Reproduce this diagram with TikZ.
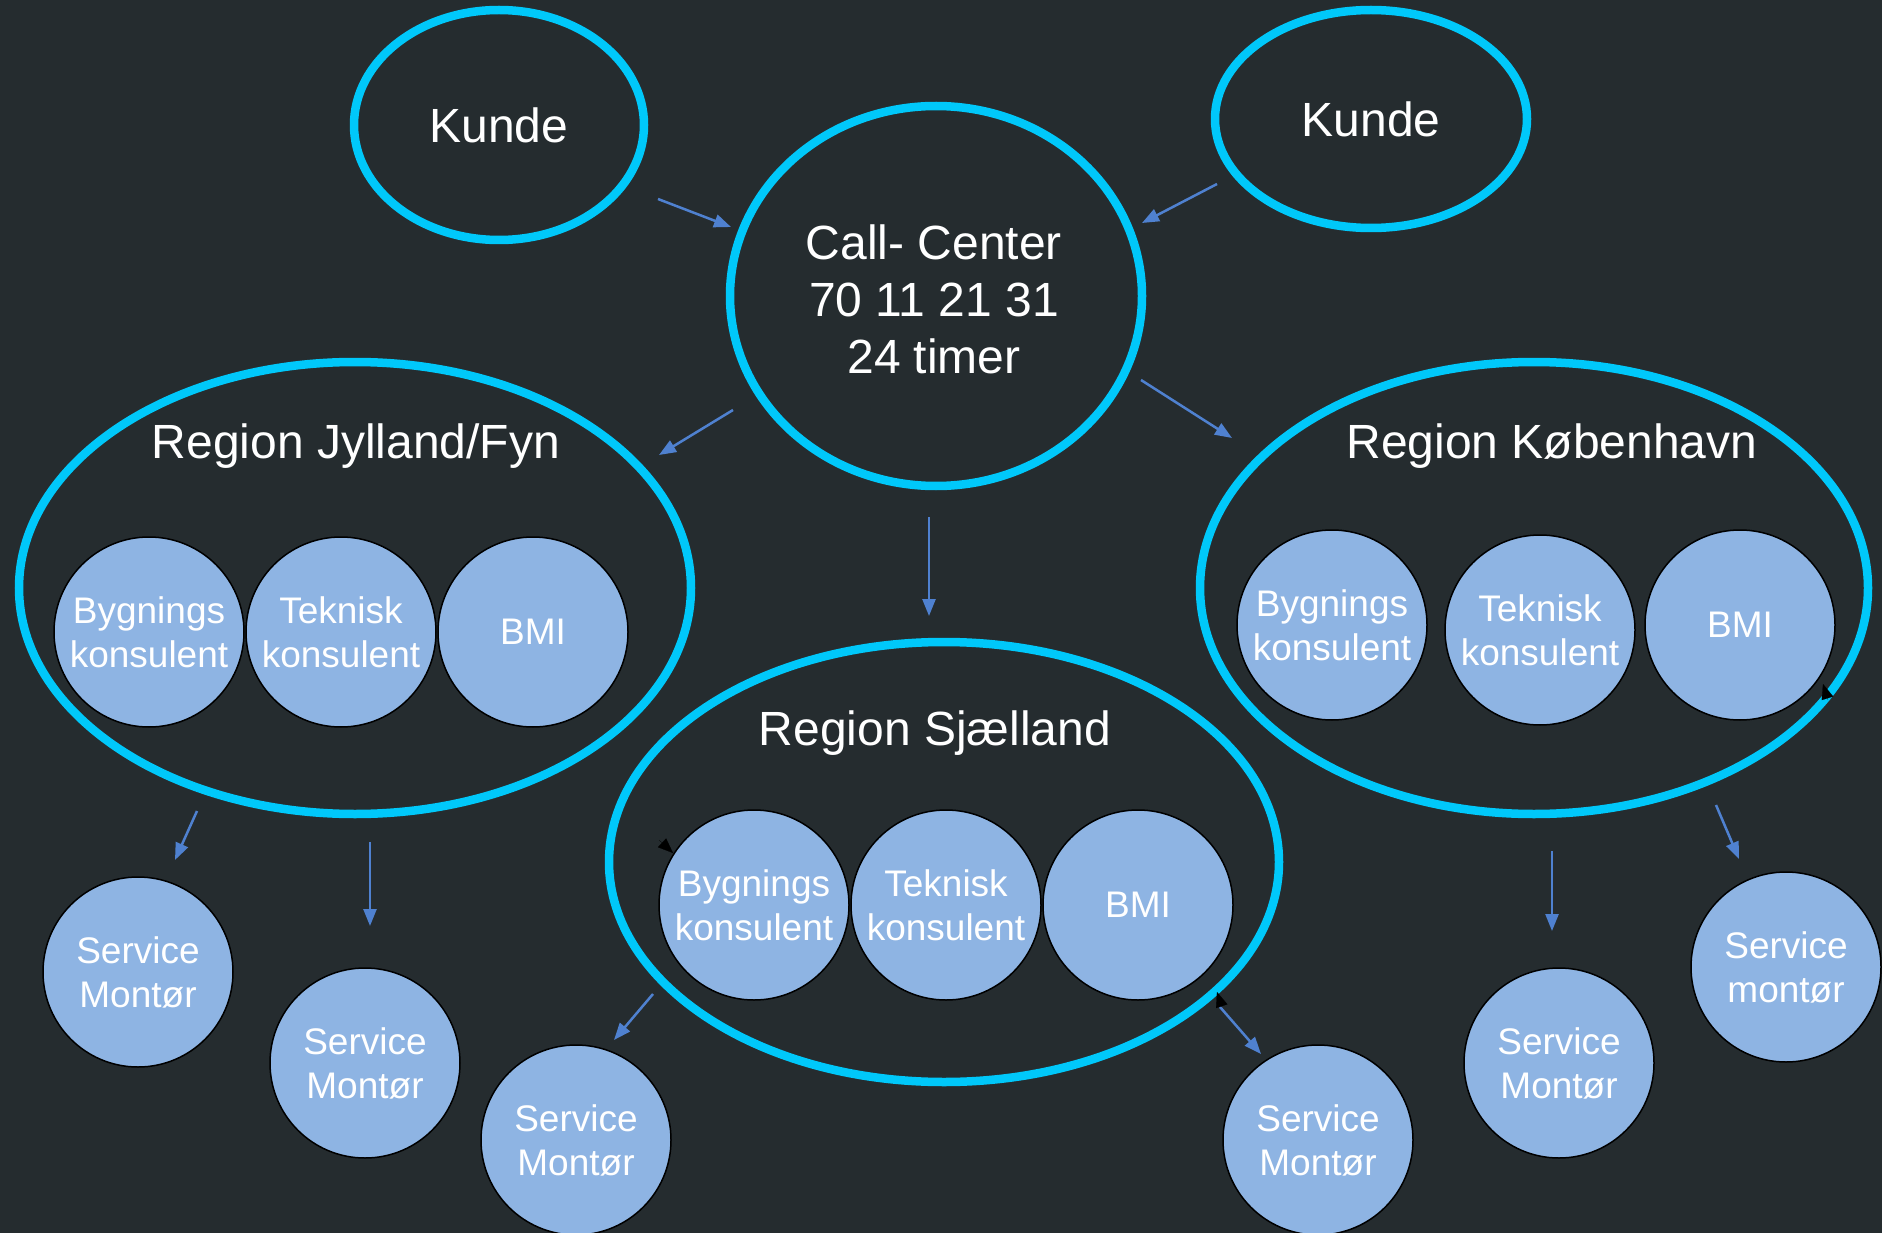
\documentclass[tikz,border=0pt]{standalone}
\usepackage{fontspec}
\setmainfont{Liberation Sans}
\usetikzlibrary{shapes.geometric,arrows.meta}
\definecolor{bg}{HTML}{252C2F}
\definecolor{cyanring}{HTML}{00C8FA}
\definecolor{pale}{HTML}{8EB4E3}
\definecolor{arrowblue}{HTML}{4F81D0}
\begin{document}
\begin{tikzpicture}[x=1pt,y=-1pt,
  ring/.style={ellipse, draw=cyanring, line width=8.5pt, inner sep=0pt, text=white,
    font=\fontsize{48}{57}\selectfont, align=center},
  regiontext/.style={text=white, font=\fontsize{48}{57}\selectfont, inner sep=0pt},
  member/.style={circle, draw=black, line width=1.5pt, fill=pale, minimum size=190pt,
    inner sep=0pt, text=white, font=\fontsize{37}{44}\selectfont, align=center},
  arr/.style={draw=arrowblue, line width=2.5pt, -{Triangle[length=17pt,width=13pt]}},
  hiddentip/.style={black, line width=0.2pt, -{Triangle[length=15pt,width=12pt]}}
]
\fill[bg] (0,0) rectangle (1882,1233);
\useasboundingbox (0,0) rectangle (1882,1233);

% top level
\node[ring, minimum width=290pt, minimum height=230pt] (kl) at (499,125) {Kunde};
\node[ring, minimum width=312pt, minimum height=218pt] (kr) at (1371,119) {Kunde};
\node[ring, minimum width=412pt, minimum height=380pt] (cc) at (936,296) {};
\node[regiontext, align=center] (cct) at (934,299) {Call- Center\\70 11 21 31\\24 timer};

% regions
\node[ring, minimum width=672pt, minimum height=452pt] (rj) at (355,588) {};
\node[regiontext] (rjt) at (356,446) {Region Jylland/Fyn};
\node[ring, minimum width=670pt, minimum height=440pt] (rs) at (944,862) {};
\node[regiontext] (rst) at (935,733) {Region Sjælland};
\node[ring, minimum width=668pt, minimum height=452pt] (rk) at (1534,588) {};
\node[regiontext] (rkt) at (1552,446) {Region København};

% members Jylland/Fyn
\node[member] (jb) at (149,632) {Bygnings\\konsulent};
\node[member] (jt) at (341,632) {Teknisk\\konsulent};
\node[member] (jm) at (533,632) {BMI};
% members Sjælland
\node[member] (sb) at (754,905) {Bygnings\\konsulent};
\node[member] (st) at (946,905) {Teknisk\\konsulent};
\node[member] (sm) at (1138,905) {BMI};
% members København
\node[member] (kb) at (1332,625) {Bygnings\\konsulent};
\node[member] (kt) at (1540,630) {Teknisk\\konsulent};
\node[member] (km) at (1740,625) {BMI};

% service montører
\node[member] (s1) at (138,972) {Service\\Montør};
\node[member] (s2) at (365,1063) {Service\\Montør};
\node[member] (s3) at (576,1140) {Service\\Montør};
\node[member] (s4) at (1318,1140) {Service\\Montør};
\node[member] (s5) at (1559,1063) {Service\\Montør};
\node[member] (s6) at (1786,967) {Service\\montør};

% arrow ends
\coordinate (a1s) at (658,199);  \coordinate (a1e) at (731,227);
\coordinate (a2s) at (1217,184); \coordinate (a2e) at (1142,223);
\coordinate (a3s) at (733,410);  \coordinate (a3e) at (659,455);
\coordinate (a4s) at (1141,380); \coordinate (a4e) at (1232,438);
\coordinate (a5s) at (929,517);  \coordinate (a5e) at (929,616);
\coordinate (a6s) at (197,811);  \coordinate (a6e) at (175,860);
\coordinate (a7s) at (370,842);  \coordinate (a7e) at (370,926);
\coordinate (a8s) at (653,994);  \coordinate (a8e) at (614,1040);
\coordinate (a9s) at (1220,1007);\coordinate (a9e) at (1261,1054);
\coordinate (a10s) at (1552,851);\coordinate (a10e) at (1552,931);
\coordinate (a11s) at (1716,805);\coordinate (a11e) at (1739,859);

\draw[arr] (a1s) -- (a1e);
\draw[arr] (a2s) -- (a2e);
\draw[arr] (a3s) -- (a3e);
\draw[arr] (a4s) -- (a4e);
\draw[arr] (a5s) -- (a5e);
\draw[arr] (a6s) -- (a6e);
\draw[arr] (a7s) -- (a7e);
\draw[arr] (a8s) -- (a8e);
\draw[arr] (a9s) -- (a9e);
\draw[arr] (a10s) -- (a10e);
\draw[arr] (a11s) -- (a11e);

% small black tips
\coordinate (t1s) at (659,840);  \coordinate (t1e) at (673,853);
\coordinate (t2s) at (1222,1007);\coordinate (t2e) at (1217,992);
\coordinate (t3s) at (1828,700); \coordinate (t3e) at (1823,684);
\draw[hiddentip] (t1s) -- (t1e);
\draw[hiddentip] (t2s) -- (t2e);
\draw[hiddentip] (t3s) -- (t3e);
\end{tikzpicture}
\end{document}
